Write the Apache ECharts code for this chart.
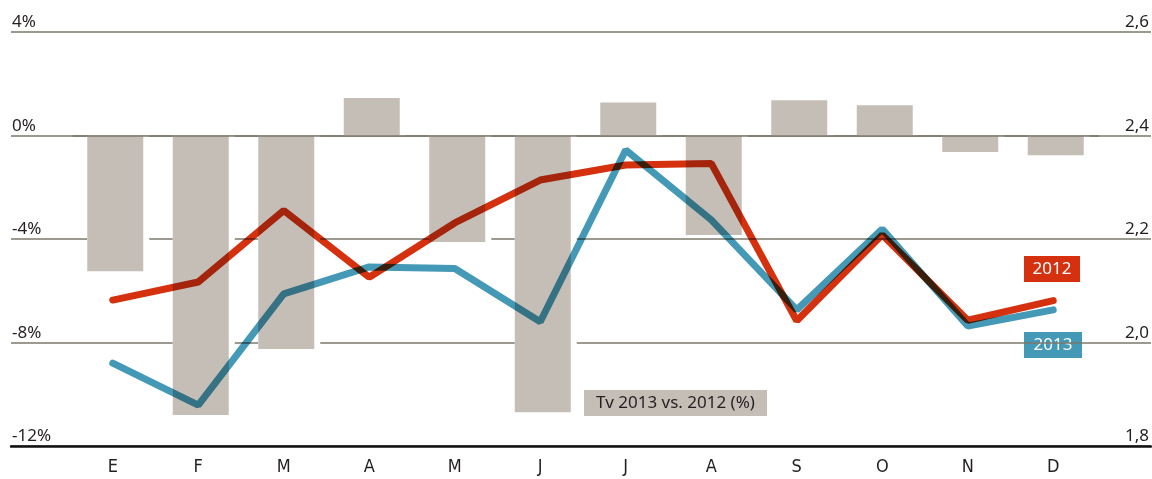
<!DOCTYPE html>
<html>
<head>
<meta charset="utf-8">
<script src="https://cdn.jsdelivr.net/npm/echarts@6/dist/echarts.min.js"></script>
<style>
  html, body { margin: 0; padding: 0; background: #fff; }
  #chart { width: 1152px; height: 479px; }
</style>
</head>
<body>
<div id="chart"></div>
<script>
// month initials (Spanish)
const months = ['E', 'F', 'M', 'A', 'M', 'J', 'J', 'A', 'S', 'O', 'N', 'D']

// Tv 2013 vs. 2012 (%), left axis
const change = [-5.25, -10.8, -8.25, 1.45, -4.12, -10.7, 1.28, -3.85, 1.36, 1.17, -0.64, -0.76]

// right axis values
const y2012 = [2.082, 2.117, 2.255, 2.126, 2.231, 2.314, 2.343, 2.346, 2.042, 2.208, 2.043, 2.081]
const y2013 = [1.960, 1.879, 2.094, 2.146, 2.143, 2.040, 2.372, 2.237, 2.063, 2.219, 2.032, 2.063]

const RED = '#d5310f'
const BLUE = '#4499b7'
const BAR = '#c5beb7'
const GRID = '#7b776b'
const TXT = '#231f20'
const NARROW = '"DejaVu Sans Condensed", "Liberation Sans Narrow", "Roboto", sans-serif'

const chart = echarts.init(document.getElementById('chart'))

chart.setOption({
  animation: false,
  backgroundColor: '#fff',
  grid: [
    { left: 11, right: 0, top: 32, bottom: 33 },
    { left: 70, right: 56, top: 32, bottom: 33 },
    // bars sit a touch right of the line points
    { left: 72.5, right: 53.5, top: 32, bottom: 33 }
  ],
  xAxis: [
    {
      gridIndex: 0, type: 'value', min: 0, max: 1,
      axisLine: { show: true, onZero: false, lineStyle: { color: '#111', width: 2.5 } },
      axisTick: { show: false }, axisLabel: { show: false }, splitLine: { show: false }
    },
    {
      gridIndex: 1, type: 'category', data: months,
      axisLine: { show: false }, axisTick: { show: false },
      axisLabel: { color: TXT, fontFamily: NARROW, fontSize: 18, margin: 12 }
    },
    {
      gridIndex: 2, type: 'category', data: months, show: false
    }
  ],
  yAxis: [
    {
      gridIndex: 0, type: 'value', position: 'left', min: -12, max: 4, interval: 4,
      axisLine: { show: false }, axisTick: { show: false },
      splitLine: { lineStyle: { color: GRID, width: 1.5 } },
      axisLabel: {
        inside: true, margin: 1, verticalAlign: 'bottom', color: TXT,
        fontFamily: 'Noto Sans', fontSize: 17, padding: [0, 0, 1, 0],
        formatter: v => v + '%'
      }
    },
    {
      gridIndex: 0, type: 'value', position: 'right', min: 1.8, max: 2.6, interval: 0.2,
      axisLine: { show: false }, axisTick: { show: false }, splitLine: { show: false },
      axisLabel: {
        inside: true, margin: 2, verticalAlign: 'bottom', color: TXT,
        fontFamily: 'Noto Sans', fontSize: 17, padding: [0, 0, 1, 0],
        formatter: v => v.toFixed(1).replace('.', ',')
      }
    },
    { gridIndex: 2, type: 'value', min: -12, max: 4, show: false },
    { gridIndex: 1, type: 'value', min: 1.8, max: 2.6, show: false }
  ],
  graphic: [
    {
      type: 'group', left: 584, top: 390, z: 20,
      children: [
        { type: 'rect', shape: { x: 0, y: 0, width: 183, height: 26 }, style: { fill: BAR } },
        { type: 'text', x: 91.5, y: 13, style: { text: 'Tv 2013 vs. 2012 (%)', fill: TXT, font: '17px "Noto Sans"', align: 'center', verticalAlign: 'middle' } }
      ]
    },
    {
      type: 'group', left: 1024, top: 256, z: 20,
      children: [
        { type: 'rect', shape: { x: 0, y: 0, width: 56, height: 26 }, style: { fill: RED } },
        { type: 'text', x: 28, y: 13, style: { text: '2012', fill: '#fff', font: '17px "Noto Sans"', align: 'center', verticalAlign: 'middle' } }
      ]
    },
    {
      type: 'group', left: 1024, top: 332, z: 20,
      children: [
        { type: 'rect', shape: { x: 0, y: 0, width: 58, height: 26 }, style: { fill: BLUE } },
        { type: 'text', x: 29, y: 13, style: { text: '2013', fill: '#fff', font: '17px "Noto Sans"', align: 'center', verticalAlign: 'middle' } }
      ]
    }
  ],
  series: [
    {
      // white gap around bars, breaks the grid lines
      name: 'mask', type: 'bar', xAxisIndex: 2, yAxisIndex: 2,
      data: change, barWidth: 62, barGap: '-100%', z: 2, silent: true,
      itemStyle: { color: '#fff' }
    },
    {
      name: 'Tv 2013 vs. 2012 (%)', type: 'bar', xAxisIndex: 2, yAxisIndex: 2,
      data: change, barWidth: 56, barGap: '-100%', z: 3,
      itemStyle: { color: BAR },
      markLine: {
        silent: true, symbol: 'none', label: { show: false },
        lineStyle: { color: GRID, width: 1.5, type: 'solid' },
        data: [{ yAxis: 0 }]
      }
    },
    {
      name: '2012', type: 'line', xAxisIndex: 1, yAxisIndex: 3,
      data: y2012, showSymbol: false, z: 5, blendMode: 'multiply',
      lineStyle: { color: RED, width: 7, cap: 'round' }
    },
    {
      name: '2013', type: 'line', xAxisIndex: 1, yAxisIndex: 3,
      data: y2013, showSymbol: false, z: 5, blendMode: 'multiply',
      lineStyle: { color: BLUE, width: 7, cap: 'round' }
    }
  ]
})
</script>
</body>
</html>
